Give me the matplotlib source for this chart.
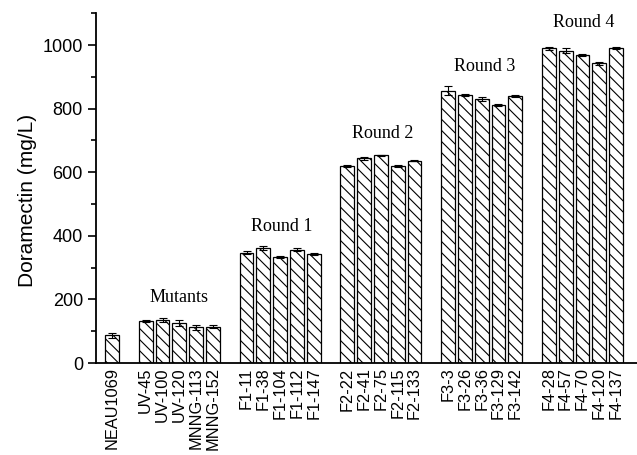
import matplotlib
matplotlib.use("Agg")
import matplotlib.pyplot as plt
from matplotlib.ticker import MultipleLocator

plt.rcParams['hatch.linewidth'] = 0.8

strains = ["NEAU1069",
           "UV-45", "UV-100", "UV-120", "MNNG-113", "MNNG-152",
           "F1-11", "F1-38", "F1-104", "F1-112", "F1-147",
           "F2-22", "F2-41", "F2-75", "F2-115", "F2-133",
           "F3-3", "F3-26", "F3-36", "F3-129", "F3-142",
           "F4-28", "F4-57", "F4-70", "F4-120", "F4-137"]
positions = [0,
             2, 3, 4, 5, 6,
             8, 9, 10, 11, 12,
             14, 15, 16, 17, 18,
             20, 21, 22, 23, 24,
             26, 27, 28, 29, 30]
titer = [88,
         133, 135, 126, 112, 115,
         347, 361, 334, 356, 343,
         621, 644, 653, 619, 636,
         856, 843, 829, 811, 840,
         990, 982, 970, 942, 990]
err = [8,
       4, 7, 8, 9, 6,
       4, 6, 4, 5, 3,
       3, 4, 2, 3, 2,
       14, 4, 6, 2, 2,
       5, 8, 3, 4, 3]

group_names = ["Mutants", "Round 1", "Round 2", "Round 3", "Round 4"]
group_x = [4, 10.1, 16.1, 22.2, 28.1]
group_y = [207, 428, 723, 931, 1072]

fig = plt.figure(figsize=(6.37, 4.55), dpi=100)
ax = fig.add_axes([0.151, 0.202, 0.849, 0.769])

ax.bar(positions, titer, width=0.82, color="white", edgecolor="black",
       linewidth=0.9, hatch="\\\\\\", zorder=2)
ax.errorbar(positions, titer, yerr=err, fmt="none", ecolor="black",
            elinewidth=0.8, capsize=3, capthick=0.8, zorder=3)

for name, gx, gy in zip(group_names, group_x, group_y):
    ax.text(gx, gy, name, ha="center", va="center",
            family="Liberation Serif", fontsize=13)

ax.set_xlim(-0.95, 31.25)
ax.set_ylim(0, 1100)
ax.set_xticks(positions)
ax.set_xticklabels(strains, rotation=90, family="Liberation Sans", fontsize=11.8)
ax.tick_params(axis="x", length=0, pad=3)
ax.yaxis.set_major_locator(MultipleLocator(200))
ax.yaxis.set_minor_locator(MultipleLocator(100))
ax.tick_params(axis="y", which="major", direction="out", length=6, width=1.2,
               labelsize=13)
ax.tick_params(axis="y", which="minor", direction="out", length=3.5, width=1.2)
for lab in ax.get_yticklabels():
    lab.set_family("Liberation Sans")
ax.set_ylabel("Doramectin (mg/L)", family="Liberation Sans", fontsize=15)
ax.yaxis.set_label_coords(-0.11, 0.466)

ax.spines["top"].set_visible(False)
ax.spines["right"].set_visible(False)
ax.spines["left"].set_linewidth(1.3)
ax.spines["bottom"].set_linewidth(1.3)

fig.savefig("out.png", dpi=100)
